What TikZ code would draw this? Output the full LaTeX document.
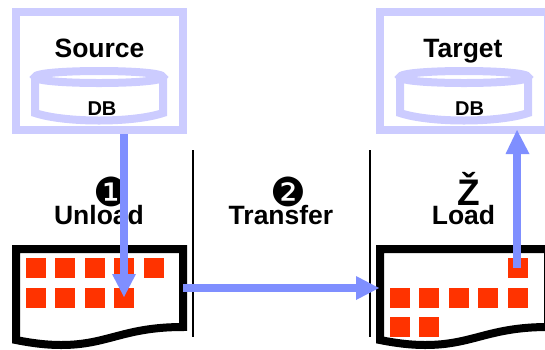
\documentclass[tikz,border=0pt]{standalone}
\usepackage{fontspec}
\setmainfont{Liberation Sans}
\newfontfamily\dejavu{DejaVu Sans}
\definecolor{pale}{HTML}{CCCCFF}
\definecolor{flow}{HTML}{7F8FFF}
\definecolor{cell}{HTML}{FF3300}
\tikzset{
  x=1pt,y=-1pt,
  boxline/.style={draw=pale,line width=8pt,miter limit=10},
  docline/.style={draw=black,line width=8pt,fill=white},
  sq/.style={fill=cell},
  flowline/.style={draw=flow,line width=8pt},
  flowhead/.style={fill=flow},
  sep/.style={draw=black,line width=2pt},
  big/.style={font=\fontsize{26.5}{26.5}\selectfont\bfseries,inner sep=0pt,anchor=base},
  small/.style={font=\fontsize{20}{20}\selectfont\bfseries,inner sep=0pt,anchor=base},
  num/.style={font=\fontsize{40}{40}\selectfont\dejavu,inner sep=0pt},
}
\newcommand{\cyl}[2]{%
  \draw[boxline] (#1,77) -- (#1,113) .. controls (#1+30,123) and (#2-30,123) .. (#2,113) -- (#2,77);
  \draw[boxline] (#1,77) .. controls (#1,69) and (#2,69) .. (#2,77) .. controls (#2,85) and (#1,85) .. (#1,77) -- cycle;}
\newcommand{\doc}[2]{%
  \draw[docline] (#1,340) -- (#1,249) -- (#2,249) -- (#2,327)
    .. controls (#2-60,327) and (#2-75,345) .. (#1+45,345)
    .. controls (#1+30,345) and (#1+15,343) .. (#1,340) -- cycle;}
\newcommand{\cellat}[2]{\fill[sq] (#1,#2) rectangle ++(20,20);}
\begin{document}
\begin{tikzpicture}
\useasboundingbox (0,0) rectangle (545,349);
\clip (0,0) rectangle (545,349);
% boxes
\draw[boxline] (16,12) rectangle (183,130);
\draw[boxline] (380,12) rectangle (548,130);
\cyl{35}{163}
\cyl{400}{528}
\node[big] (src) at (99.5,57) {Source};
\node[big] (tgt) at (463,57) {Target};
\node[small] (db1) at (102,115.5) {DB};
\node[small] (db2) at (469.5,115.5) {DB};
% documents
\doc{16}{183}
\doc{380}{548}
\foreach \x in {26,55,85,114,144} \cellat{\x}{258}
\foreach \x in {26,55,85,114} \cellat{\x}{288}
\cellat{508}{258}
\foreach \x in {390,419,449,478,508} \cellat{\x}{288}
\foreach \x in {390,419} \cellat{\x}{317}
% separators
\coordinate (s1t) at (192.5,150); \coordinate (s1b) at (192.5,337);
\coordinate (s2t) at (370,150); \coordinate (s2b) at (370,337);
\draw[sep] (s1t) -- (s1b);
\draw[sep] (s2t) -- (s2b);
% labels
\node[num] (n1) at (111.5,192) {❶};
\node[num] (n2) at (288,192) {❷};
\node[big] (unl) at (99,224) {Unload};
\node[big] (trf) at (281,224) {Transfer};
\node[big] (lod) at (463.5,224) {Load};
\node[font=\fontsize{37}{37}\selectfont\bfseries,inner sep=0pt,anchor=base] (zc) at (469,205) {Ž};
% flows
\coordinate (a1s) at (124,134); \coordinate (a1b) at (124,274); \coordinate (a1t) at (124,297);
\coordinate (a2s) at (183,288); \coordinate (a2b) at (356,288); \coordinate (a2t) at (379,288);
\coordinate (a3s) at (517,268); \coordinate (a3b) at (517,154); \coordinate (a3t) at (517,130);
\draw[flowline] (a1s) -- (a1b);
\fill[flowhead] (a1t) -- (112,274) -- (136,274) -- cycle;
\draw[flowline] (a2s) -- (a2b);
\fill[flowhead] (a2t) -- (356,276) -- (356,300) -- cycle;
\draw[flowline] (a3s) -- (a3b);
\fill[flowhead] (a3t) -- (505.5,154) -- (529.5,154) -- cycle;
\end{tikzpicture}
\end{document}
